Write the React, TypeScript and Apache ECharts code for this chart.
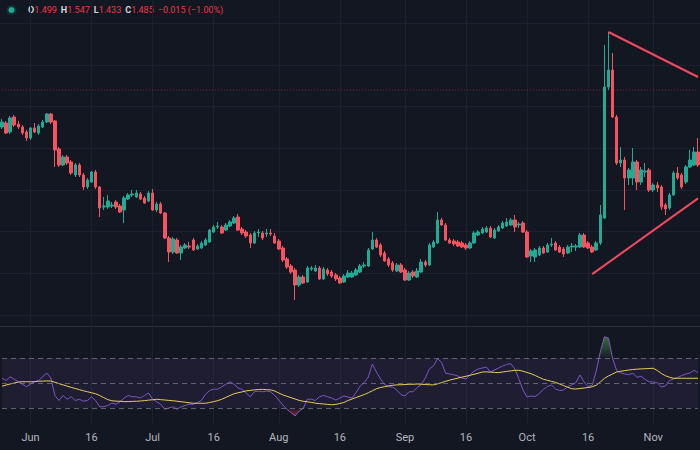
import { useEffect, useRef } from "react";
import * as echarts from "echarts";

// ---------- data ----------
const START_YEAR = 2024;
const START_MONTH = 4; // May (0-based)
const START_DAY = 25;
const MONTH_NAMES = ["Jan", "Feb", "Mar", "Apr", "May", "Jun", "Jul", "Aug", "Sep", "Oct", "Nov", "Dec"];
const LABEL_DAYS = [1, 16];

// [open, close, low, high]
const OHLC: number[][] = [
  [1.4628, 1.4658, 1.4616, 1.4676],
  [1.4652, 1.4592, 1.4586, 1.4664],
  [1.4598, 1.4682, 1.4586, 1.4694],
  [1.4688, 1.4640, 1.4628, 1.4700],
  [1.4646, 1.4628, 1.4616, 1.4664],
  [1.4628, 1.4592, 1.4580, 1.4640],
  [1.4598, 1.4562, 1.4544, 1.4610],
  [1.4562, 1.4622, 1.4550, 1.4628],
  [1.4622, 1.4598, 1.4592, 1.4652],
  [1.4592, 1.4634, 1.4580, 1.4646],
  [1.4628, 1.4658, 1.4622, 1.4670],
  [1.4658, 1.4706, 1.4652, 1.4712],
  [1.4706, 1.4658, 1.4646, 1.4712],
  [1.4664, 1.4490, 1.4388, 1.4670],
  [1.4496, 1.4400, 1.4388, 1.4508],
  [1.4400, 1.4448, 1.4394, 1.4460],
  [1.4448, 1.4412, 1.4400, 1.4460],
  [1.4418, 1.4352, 1.4340, 1.4430],
  [1.4340, 1.4400, 1.4328, 1.4412],
  [1.4400, 1.4340, 1.4328, 1.4412],
  [1.4340, 1.4268, 1.4250, 1.4352],
  [1.4268, 1.4310, 1.4256, 1.4322],
  [1.4298, 1.4358, 1.4292, 1.4364],
  [1.4358, 1.4268, 1.4256, 1.4370],
  [1.4268, 1.4142, 1.4088, 1.4274],
  [1.4148, 1.4154, 1.4130, 1.4208],
  [1.4148, 1.4184, 1.4136, 1.4220],
  [1.4154, 1.4160, 1.4142, 1.4178],
  [1.4178, 1.4148, 1.4136, 1.4190],
  [1.4154, 1.4118, 1.4112, 1.4166],
  [1.4130, 1.4202, 1.4052, 1.4214],
  [1.4196, 1.4220, 1.4190, 1.4232],
  [1.4220, 1.4226, 1.4208, 1.4250],
  [1.4208, 1.4232, 1.4202, 1.4250],
  [1.4226, 1.4196, 1.4190, 1.4238],
  [1.4202, 1.4172, 1.4166, 1.4214],
  [1.4184, 1.4232, 1.4178, 1.4244],
  [1.4232, 1.4130, 1.4124, 1.4256],
  [1.4130, 1.4166, 1.4118, 1.4178],
  [1.4166, 1.4112, 1.4106, 1.4178],
  [1.4112, 1.3962, 1.3956, 1.4118],
  [1.3962, 1.3878, 1.3818, 1.3974],
  [1.3878, 1.3956, 1.3866, 1.3968],
  [1.3950, 1.3872, 1.3866, 1.3962],
  [1.3872, 1.3908, 1.3830, 1.3920],
  [1.3902, 1.3920, 1.3896, 1.3932],
  [1.3914, 1.3908, 1.3896, 1.3938],
  [1.3950, 1.3890, 1.3884, 1.3962],
  [1.3896, 1.3914, 1.3890, 1.3926],
  [1.3902, 1.3932, 1.3896, 1.3944],
  [1.3920, 1.3950, 1.3914, 1.3962],
  [1.3938, 1.4010, 1.3932, 1.4016],
  [1.3998, 1.4028, 1.3992, 1.4040],
  [1.4028, 1.4034, 1.4016, 1.4058],
  [1.4028, 1.3992, 1.3986, 1.4040],
  [1.4010, 1.4040, 1.4004, 1.4052],
  [1.4034, 1.4058, 1.4028, 1.4070],
  [1.4052, 1.4082, 1.4046, 1.4094],
  [1.4088, 1.4010, 1.4004, 1.4106],
  [1.4016, 1.3992, 1.3980, 1.4028],
  [1.3998, 1.3974, 1.3962, 1.4010],
  [1.3980, 1.3932, 1.3902, 1.3992],
  [1.3932, 1.3992, 1.3926, 1.4004],
  [1.3992, 1.3998, 1.3968, 1.4016],
  [1.3992, 1.3962, 1.3950, 1.4004],
  [1.3986, 1.3992, 1.3968, 1.4016],
  [1.3992, 1.3986, 1.3974, 1.4016],
  [1.3974, 1.3932, 1.3926, 1.3992],
  [1.3944, 1.3896, 1.3890, 1.3956],
  [1.3902, 1.3830, 1.3818, 1.3914],
  [1.3836, 1.3788, 1.3776, 1.3848],
  [1.3794, 1.3758, 1.3746, 1.3806],
  [1.3770, 1.3680, 1.3590, 1.3782],
  [1.3680, 1.3728, 1.3668, 1.3740],
  [1.3728, 1.3692, 1.3686, 1.3740],
  [1.3698, 1.3782, 1.3692, 1.3794],
  [1.3776, 1.3782, 1.3764, 1.3794],
  [1.3764, 1.3782, 1.3758, 1.3800],
  [1.3782, 1.3716, 1.3710, 1.3794],
  [1.3716, 1.3776, 1.3710, 1.3788],
  [1.3770, 1.3746, 1.3734, 1.3782],
  [1.3758, 1.3734, 1.3722, 1.3770],
  [1.3740, 1.3716, 1.3704, 1.3752],
  [1.3722, 1.3692, 1.3686, 1.3734],
  [1.3698, 1.3734, 1.3692, 1.3746],
  [1.3728, 1.3752, 1.3722, 1.3770],
  [1.3728, 1.3752, 1.3722, 1.3764],
  [1.3740, 1.3770, 1.3734, 1.3782],
  [1.3758, 1.3794, 1.3752, 1.3806],
  [1.3794, 1.3800, 1.3782, 1.3818],
  [1.3794, 1.3890, 1.3788, 1.3902],
  [1.3896, 1.3950, 1.3890, 1.3998],
  [1.3950, 1.3908, 1.3902, 1.3962],
  [1.3920, 1.3860, 1.3848, 1.3932],
  [1.3872, 1.3824, 1.3818, 1.3884],
  [1.3836, 1.3800, 1.3788, 1.3848],
  [1.3812, 1.3770, 1.3758, 1.3824],
  [1.3764, 1.3800, 1.3758, 1.3812],
  [1.3800, 1.3758, 1.3752, 1.3812],
  [1.3770, 1.3710, 1.3704, 1.3782],
  [1.3710, 1.3752, 1.3704, 1.3764],
  [1.3758, 1.3734, 1.3722, 1.3770],
  [1.3728, 1.3764, 1.3722, 1.3782],
  [1.3758, 1.3818, 1.3752, 1.3836],
  [1.3818, 1.3800, 1.3788, 1.3830],
  [1.3800, 1.3920, 1.3794, 1.3932],
  [1.3908, 1.3938, 1.3902, 1.3950],
  [1.3932, 1.4070, 1.3926, 1.4118],
  [1.4070, 1.4040, 1.4034, 1.4082],
  [1.4040, 1.3950, 1.3944, 1.4052],
  [1.3950, 1.3932, 1.3926, 1.3962],
  [1.3944, 1.3926, 1.3914, 1.3956],
  [1.3938, 1.3914, 1.3908, 1.3950],
  [1.3932, 1.3908, 1.3902, 1.3944],
  [1.3920, 1.3902, 1.3890, 1.3932],
  [1.3902, 1.3932, 1.3896, 1.3944],
  [1.3932, 1.3992, 1.3926, 1.4004],
  [1.3980, 1.3998, 1.3974, 1.4010],
  [1.3992, 1.4016, 1.3986, 1.4028],
  [1.3998, 1.4022, 1.3992, 1.4034],
  [1.4022, 1.3968, 1.3962, 1.4034],
  [1.3962, 1.4010, 1.3956, 1.4022],
  [1.4004, 1.4028, 1.3998, 1.4040],
  [1.4022, 1.4052, 1.4016, 1.4064],
  [1.4034, 1.4058, 1.4028, 1.4082],
  [1.4040, 1.4070, 1.4034, 1.4082],
  [1.4070, 1.4028, 1.3998, 1.4100],
  [1.4040, 1.4046, 1.4022, 1.4058],
  [1.4052, 1.3998, 1.3992, 1.4064],
  [1.3998, 1.3848, 1.3842, 1.4010],
  [1.3854, 1.3884, 1.3818, 1.3896],
  [1.3848, 1.3890, 1.3818, 1.3902],
  [1.3860, 1.3902, 1.3854, 1.3914],
  [1.3902, 1.3872, 1.3866, 1.3914],
  [1.3878, 1.3920, 1.3872, 1.3932],
  [1.3920, 1.3926, 1.3908, 1.3962],
  [1.3932, 1.3890, 1.3884, 1.3944],
  [1.3908, 1.3878, 1.3872, 1.3920],
  [1.3896, 1.3866, 1.3848, 1.3908],
  [1.3872, 1.3908, 1.3866, 1.3920],
  [1.3908, 1.3914, 1.3878, 1.3932],
  [1.3908, 1.3914, 1.3884, 1.3926],
  [1.3908, 1.3980, 1.3902, 1.3992],
  [1.3980, 1.3908, 1.3902, 1.3992],
  [1.3932, 1.3902, 1.3896, 1.3944],
  [1.3908, 1.3878, 1.3872, 1.3920],
  [1.3890, 1.3932, 1.3884, 1.3944],
  [1.3932, 1.4100, 1.3920, 1.4160],
  [1.4082, 1.4868, 1.4076, 1.5120],
  [1.4868, 1.4970, 1.4850, 1.5198],
  [1.4970, 1.4688, 1.4682, 1.5072],
  [1.4688, 1.4412, 1.4400, 1.4700],
  [1.4412, 1.4430, 1.4388, 1.4508],
  [1.4430, 1.4322, 1.4130, 1.4448],
  [1.4322, 1.4370, 1.4280, 1.4382],
  [1.4322, 1.4418, 1.4280, 1.4502],
  [1.4418, 1.4298, 1.4250, 1.4430],
  [1.4298, 1.4370, 1.4280, 1.4388],
  [1.4358, 1.4364, 1.4328, 1.4412],
  [1.4370, 1.4250, 1.4238, 1.4382],
  [1.4250, 1.4280, 1.4238, 1.4292],
  [1.4280, 1.4262, 1.4238, 1.4298],
  [1.4268, 1.4148, 1.4130, 1.4280],
  [1.4160, 1.4136, 1.4100, 1.4172],
  [1.4142, 1.4220, 1.4130, 1.4232],
  [1.4220, 1.4352, 1.4214, 1.4364],
  [1.4352, 1.4322, 1.4310, 1.4388],
  [1.4340, 1.4268, 1.4256, 1.4352],
  [1.4298, 1.4388, 1.4286, 1.4400],
  [1.4388, 1.4430, 1.4382, 1.4490],
  [1.4400, 1.4478, 1.4394, 1.4508],
  [1.4478, 1.4400, 1.4388, 1.4562],
];

const RSI: number[] = [
  54, 52, 55, 53, 51, 49, 47, 49, 51, 52,
  55, 58, 54, 40, 36, 40, 37, 39, 36, 37,
  35.5, 36, 39, 36, 31, 31, 32, 34, 33, 35,
  38, 40, 39, 39, 38, 40, 42, 37, 35, 33,
  29, 30, 31, 29, 31, 32, 33, 33, 34.4, 36,
  41, 44, 45, 45, 47, 49, 51, 49, 46, 45,
  42, 39, 43, 43.5, 43, 43.5, 43, 40, 36.4, 32.4,
  29, 26.4, 23.6, 27.6, 29.6, 37, 37, 36, 39, 40,
  39, 38, 36.4, 38, 39.6, 38.8, 38, 42.4, 47.6, 50.4,
  54.8, 65.2, 58.8, 53.2, 48.8, 47, 46.8, 44.4, 40.8, 39.6,
  43, 43, 46.4, 48.8, 54, 61.2, 63.6, 69.6, 66.4, 57.8,
  57.2, 56.6, 55.6, 54, 53.2, 56.4, 59.6, 61.2, 62, 62.8,
  59, 60.4, 62, 63.6, 64.8, 65.6, 61.2, 53.2, 44.4, 38.8,
  39.6, 39.2, 41.6, 44.8, 47.2, 48.4, 45.2, 44, 44.4, 47.2,
  48.4, 50.4, 56.4, 50.8, 47.2, 48, 59.6, 74.8, 87, 86,
  70, 60, 58.2, 57.2, 56.8, 57.8, 54.6, 55.4, 52.8, 51,
  50.8, 50.2, 46.8, 47.6, 52, 53.2, 54.4, 56, 57.2, 58,
  60.2, 58.4,
];

const RSI_MA: number[] = [
  47.4, 48.4, 49.2, 50, 50.8, 51, 51, 51, 51.1, 51.4,
  51.5, 51.7, 51.6, 50.6, 49.5, 48.5, 47.5, 46.5, 45.6, 44.7,
  43.8, 43, 42.2, 41.4, 40, 38.3, 36.7, 35.8, 35.5, 35.4,
  35.1, 35.1, 35.3, 35.4, 35.6, 35.9, 36.3, 36.6, 37, 36.7,
  36.4, 36.1, 35.8, 35.4, 35, 34.6, 34.2, 33.8, 33.8, 33.8,
  33.8, 34.4, 35.1, 35.9, 37, 38.5, 40, 41.4, 42.2, 42.9,
  43.7, 44.1, 44.5, 44.8, 44.9, 44.7, 44.5, 43.6, 42, 40.5,
  39.4, 38.3, 37.2, 36.1, 35.4, 35, 34.5, 33.9, 33.5, 33.2,
  32.9, 32.6, 32.9, 33.6, 34.4, 36, 37.2, 38.4, 39.6, 40.7,
  42.2, 43.8, 45.4, 46.4, 47, 47.7, 48.2, 48.5, 48.6, 48.8,
  49, 49, 49.2, 49, 48.8, 48.6, 48.5, 49.3, 50.3, 51.4,
  52.3, 53.1, 53.9, 54.7, 55.4, 56.2, 57, 57.8, 58.8, 58.9,
  58.7, 58.5, 58.3, 58.8, 59.3, 59.7, 60.1, 60.2, 59.4, 58.4,
  57.4, 56, 54.5, 53, 52.2, 51.3, 50.5, 49.2, 47.9, 46.6,
  45.4, 45.2, 45.6, 46, 46.4, 47, 48.2, 50.8, 53.7, 55.6,
  57.2, 58.8, 59.4, 59.9, 60.4, 60.8, 61.1, 61.3, 61.4, 61.6,
  61.8, 60, 57.6, 55.8, 54.6, 53.8, 53.8, 53.8, 53.8, 53.8,
  53.8, 53.8,
];

// price scale: gridlines every 0.025 between these bounds
const PRICE_GRID_MIN = 1.35;
const PRICE_GRID_MAX = 1.525;
const PRICE_GRID_STEP = 0.025;
const LAST_PRICE = 1.485;
const RSI_LEVELS = [30, 50, 70];
const RSI_UPPER = 70;
const RSI_LOWER = 30;

// trend lines: [day index, price]
const UPPER_TREND: [number, number][] = [[149, 1.5198], [171, 1.4928]];
const LOWER_TREND: [number, number][] = [[145, 1.3745], [171, 1.42]];

const HEADER_LABELS = ["O", "H", "L", "C"];
const HEADER_VALUES = ["1.499", "1.547", "1.433", "1.485"];
const HEADER_CHANGE = "−0.015 (−1.00%)";

// ---------- build categories ----------
const CATEGORIES: string[] = OHLC.map((_, i) => {
  const d = new Date(Date.UTC(START_YEAR, START_MONTH, START_DAY + i));
  return d.toISOString().slice(0, 10);
});

const dayOf = (v: string) => parseInt(v.slice(8, 10), 10);
const isLabelDay = (_i: number, v: string) => LABEL_DAYS.includes(dayOf(v));

const BG = "#131722";
const GRID = "#1c2130";
const UP = "#22ab94";
const DOWN = "#f7525f";
const TREND = "#f2495f";
const FONT = "Roboto, sans-serif";

export default function App() {
  const ref = useRef<HTMLDivElement>(null);

  useEffect(() => {
    document.body.style.margin = "0";
    document.body.style.background = BG;
    if (!ref.current) return;
    const chart = echarts.init(ref.current, undefined, { renderer: "svg" });

    const headerText =
      HEADER_LABELS.map((k, i) => `{k|${k}}{v|${HEADER_VALUES[i]}}`).join("{s| }") +
      `{s| }{v|${HEADER_CHANGE}}`;

    const option: any = {
      animation: false,
      backgroundColor: BG,
      grid: [
        { left: 2, right: 2, top: 0, bottom: 124 },
        { left: 2, right: 2, top: 326, bottom: 25 },
        // horizontal price grid (0.025 steps): 1.525 at y≈23.3, 1.35 at y≈315
        { left: 0, right: 0, top: 23.33, bottom: 135 },
      ],
      xAxis: [
        {
          type: "category",
          gridIndex: 0,
          data: CATEGORIES,
          boundaryGap: false,
          axisLine: { show: false },
          axisTick: { show: false },
          axisLabel: { show: false },
          splitLine: { show: true, interval: isLabelDay, lineStyle: { color: GRID, width: 1 } },
        },
        {
          type: "category",
          gridIndex: 1,
          data: CATEGORIES,
          boundaryGap: false,
          axisLine: { show: false },
          axisTick: { show: false },
          axisLabel: {
            show: true,
            interval: isLabelDay,
            color: "#b2b5be",
            fontSize: 11,
            fontFamily: FONT,
            margin: 7,
            formatter: (v: string) => {
              const d = dayOf(v);
              const m = parseInt(v.slice(5, 7), 10) - 1;
              return d === 1 ? MONTH_NAMES[m] : String(d);
            },
          },
          splitLine: { show: true, interval: isLabelDay, lineStyle: { color: GRID, width: 1 } },
        },
        {
          type: "value",
          gridIndex: 2,
          min: 0,
          max: 1,
          axisLine: { show: false },
          axisTick: { show: false },
          axisLabel: { show: false },
          splitLine: { show: false },
        },
      ],
      yAxis: [
        { type: "value", gridIndex: 0, min: 1.3434, max: 1.539, show: false },
        { type: "value", gridIndex: 1, min: 16.4, max: 95.6, show: false },
        {
          type: "value",
          gridIndex: 2,
          min: PRICE_GRID_MIN,
          max: PRICE_GRID_MAX,
          interval: PRICE_GRID_STEP,
          axisLine: { show: false },
          axisTick: { show: false },
          axisLabel: { show: false },
          splitLine: { show: true, lineStyle: { color: GRID, width: 1 } },
        },
      ],
      series: [
        {
          type: "line",
          name: "last price",
          xAxisIndex: 0,
          yAxisIndex: 0,
          data: [
            [CATEGORIES[0], LAST_PRICE],
            [CATEGORIES[CATEGORIES.length - 1], LAST_PRICE],
          ],
          symbol: "none",
          silent: true,
          lineStyle: { color: "rgba(242,54,69,0.45)", width: 1, type: [1, 2] },
          z: 1,
        },
        {
          type: "candlestick",
          xAxisIndex: 0,
          yAxisIndex: 0,
          data: OHLC,
          barWidth: 3,
          z: 3,
          itemStyle: {
            color: UP,
            color0: DOWN,
            borderColor: UP,
            borderColor0: DOWN,
            borderWidth: 1,
          },
        },
        {
          type: "line",
          xAxisIndex: 0,
          yAxisIndex: 0,
          data: UPPER_TREND.map(([i, v]) => [CATEGORIES[i], v]),
          symbol: "none",
          lineStyle: { color: TREND, width: 2 },
          z: 5,
        },
        {
          type: "line",
          xAxisIndex: 0,
          yAxisIndex: 0,
          data: LOWER_TREND.map(([i, v]) => [CATEGORIES[i], v]),
          symbol: "none",
          lineStyle: { color: TREND, width: 2 },
          z: 5,
        },
        {
          type: "line",
          xAxisIndex: 1,
          yAxisIndex: 1,
          data: RSI.map((v) => Math.max(v, RSI_UPPER)),
          symbol: "none",
          lineStyle: { width: 0, opacity: 0 },
          areaStyle: {
            origin: RSI_UPPER,
            color: new echarts.graphic.LinearGradient(0, 0, 0, 1, [
              { offset: 0, color: "rgba(76,175,80,0.85)" },
              { offset: 1, color: "rgba(76,175,80,0.05)" },
            ]),
          },
          z: 1,
        },
        {
          type: "line",
          xAxisIndex: 1,
          yAxisIndex: 1,
          data: RSI.map((v) => Math.min(v, RSI_LOWER)),
          symbol: "none",
          lineStyle: { width: 0, opacity: 0 },
          areaStyle: {
            origin: RSI_LOWER,
            color: new echarts.graphic.LinearGradient(0, 0, 0, 1, [
              { offset: 0, color: "rgba(242,54,69,0.05)" },
              { offset: 1, color: "rgba(242,54,69,0.7)" },
            ]),
          },
          z: 1,
        },
        {
          type: "line",
          name: "RSI",
          xAxisIndex: 1,
          yAxisIndex: 1,
          data: RSI,
          symbol: "none",
          lineStyle: { color: "#7e57c2", width: 1 },
          z: 3,
          markArea: {
            silent: true,
            itemStyle: { color: "rgba(126,87,194,0.1)" },
            data: [[{ yAxis: RSI_LOWER }, { yAxis: RSI_UPPER }]],
          },
          markLine: {
            silent: true,
            symbol: ["none", "none"],
            label: { show: false },
            lineStyle: { color: "rgba(120,123,134,0.75)", width: 1, type: [5, 4] },
            data: RSI_LEVELS.map((v) => ({ yAxis: v })),
          },
        },
        {
          type: "line",
          name: "RSI-based MA",
          xAxisIndex: 1,
          yAxisIndex: 1,
          data: RSI_MA,
          symbol: "none",
          lineStyle: { color: "#e6cf55", width: 1 },
          z: 4,
        },
      ],
      graphic: [
        {
          type: "line",
          shape: { x1: 0, y1: 326.5, x2: 700, y2: 326.5 },
          style: { stroke: "#2a2e39", lineWidth: 1 },
          silent: true,
        },
        {
          type: "circle",
          shape: { cx: 11.5, cy: 10, r: 5 },
          style: { fill: "rgba(34,171,148,0.18)" },
          silent: true,
        },
        {
          type: "circle",
          shape: { cx: 11.5, cy: 10, r: 3 },
          style: { fill: UP },
          silent: true,
        },
        {
          type: "text",
          left: 28,
          top: 5,
          silent: true,
          style: {
            text: headerText,
            align: "left",
            rich: {
              k: { fill: "#d1d4dc", fontSize: 9, fontFamily: FONT, fontWeight: "bold" },
              v: { fill: "#f23645", fontSize: 9, fontFamily: FONT },
              s: { fontSize: 9, width: 4 },
            },
          },
        },
      ],
    };

    chart.setOption(option);
    return () => chart.dispose();
  }, []);

  return (
    <div
      ref={ref}
      style={{ position: "fixed", left: 0, top: 0, width: 700, height: 450, background: BG }}
    />
  );
}
